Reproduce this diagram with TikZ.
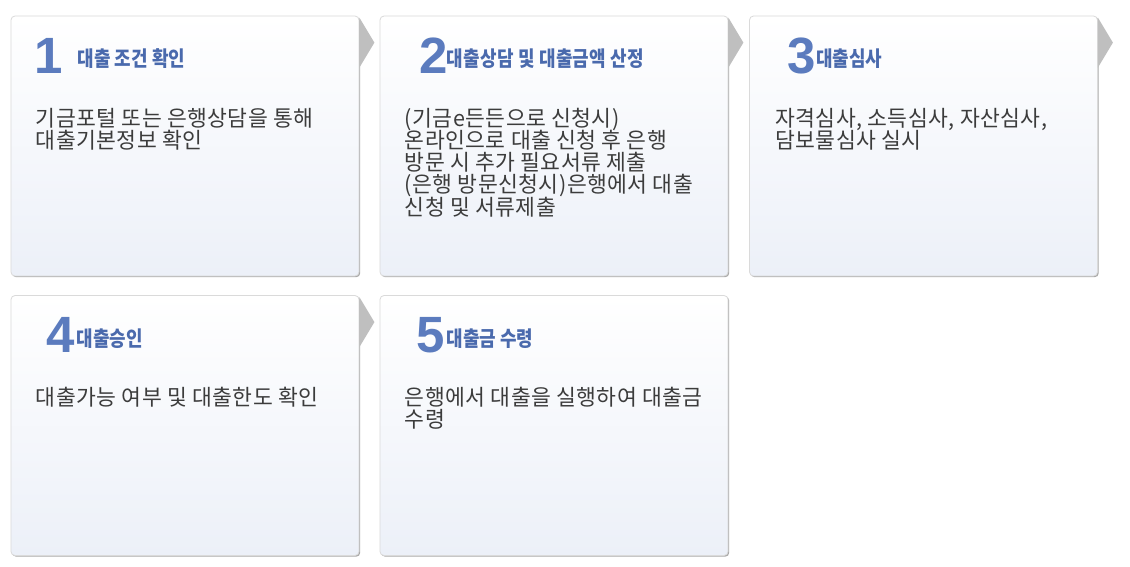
\documentclass[tikz,border=0pt]{standalone}
\usepackage{fontspec}
\setmainfont{Noto Sans CJK KR}
\newfontfamily\bodyfont[FakeStretch=0.98,LetterSpace=2]{Noto Sans CJK KR}
\newfontfamily\titlefont[FakeStretch=0.855]{Noto Sans CJK KR}
\newfontfamily\titlewidefont[FakeStretch=0.855,LetterSpace=1.5]{Noto Sans CJK KR}
\newfontfamily\numfont{Liberation Sans}
\usetikzlibrary{shadows,calc}
\definecolor{numblue}{RGB}{91,123,190}
\definecolor{titleblue}{RGB}{74,106,173}
\definecolor{bodygrey}{RGB}{60,60,60}
\definecolor{cardborder}{RGB}{218,218,218}
\definecolor{cardshadow}{RGB}{170,170,170}
\definecolor{arrowgrey}{RGB}{191,191,191}
\definecolor{cardbottom}{RGB}{236,240,248}
\newcommand{\bodysetup}{\bodyfont\fontsize{22}{22.3}\selectfont\lineskiplimit=-50pt\relax\lineskip=0pt\relax}
\begin{document}
\begin{tikzpicture}[x=1pt,y=-1pt,
  card/.style={draw=cardborder, line width=0.8pt, rounded corners=4pt,
    minimum width=348pt, minimum height=260pt, inner sep=0pt,
    top color=white, bottom color=cardbottom,
    drop shadow={shadow xshift=1.2pt, shadow yshift=-1.2pt, fill=cardshadow, opacity=1}},
  num/.style={anchor=base west, inner sep=0pt, text=numblue, font=\numfont\bfseries\fontsize{51}{51}\selectfont},
  ttl/.style={anchor=base west, inner sep=0pt, text=titleblue, font=\titlefont\bfseries\fontsize{21}{21}\selectfont},
  ttlwide/.style={ttl, font=\titlewidefont\bfseries\fontsize{21}{21}\selectfont},
  body/.style={anchor=north west, inner sep=0pt, align=left, text=bodygrey, font=\bodysetup},
  nexttip/.style={fill=arrowgrey}
]
\useasboundingbox (0,0) rectangle (1130,566);
\fill[white] (0,0) rectangle (1130,566);

\node[card] (box1) at (185,146) {};
\node[card] (box2) at (554,146) {};
\node[card] (box3) at (923.5,146) {};
\node[card] (box4) at (185,425.5) {};
\node[card] (box5) at (554,425.5) {};

\foreach \b in {box1,box2,box3,box4}{
  \fill[nexttip] ($(\b.north east)+(0,2)$) -- ($(\b.north east)+(15,27)$) -- ($(\b.north east)+(0,52)$) -- cycle;
}

\node[num] (n1) at ($(box1.north west)+(24,57.5)$) {1};
\node[ttl] (t1) at ($(box1.north west)+(67,51)$) {대출 조건 확인};
\node[body] (b1) at ($(box1.north west)+(25,92)$) {기금포털 또는 은행상담을 통해\\대출기본정보 확인};

\node[num] (n2) at ($(box2.north west)+(39.5,57.5)$) {2};
\node[ttlwide] (t2) at ($(box2.north west)+(67,51)$) {대출상담 및 대출금액 산정};
\node[body] (b2) at ($(box2.north west)+(25,92)$) {(기금e든든으로 신청시)\\온라인으로 대출 신청 후 은행\\방문 시 추가 필요서류 제출\\(은행 방문신청시)은행에서 대출\\신청 및 서류제출};

\node[num] (n3) at ($(box3.north west)+(38,57.5)$) {3};
\node[ttl] (t3) at ($(box3.north west)+(67,51)$) {대출심사};
\node[body] (b3) at ($(box3.north west)+(26,92)$) {자격심사, 소득심사, 자산심사,\\담보물심사 실시};

\node[num] (n4) at ($(box4.north west)+(36,57.5)$) {4};
\node[ttl] (t4) at ($(box4.north west)+(66,51)$) {대출승인};
\node[body] (b4) at ($(box4.north west)+(25,92)$) {대출가능 여부 및 대출한도 확인};

\node[num] (n5) at ($(box5.north west)+(36.5,57.5)$) {5};
\node[ttl] (t5) at ($(box5.north west)+(67,51)$) {대출금 수령};
\node[body] (b5) at ($(box5.north west)+(25,92)$) {은행에서 대출을 실행하여 대출금\\수령};
\end{tikzpicture}
\end{document}
